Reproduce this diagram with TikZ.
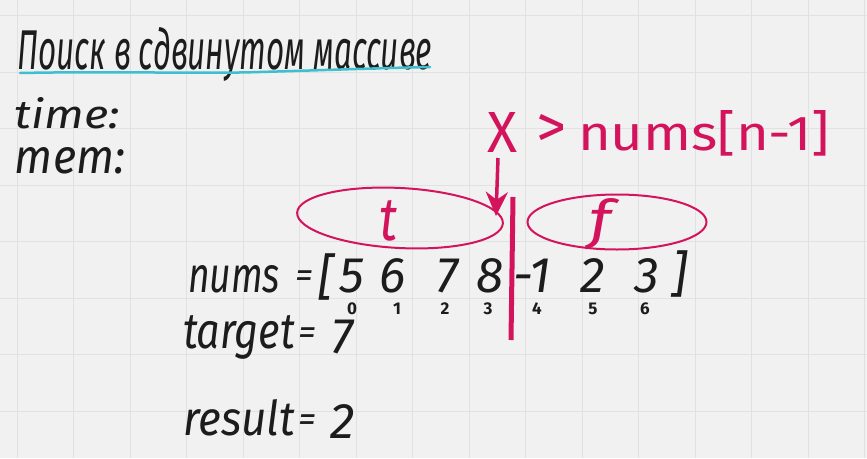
\documentclass[tikz,border=0pt]{standalone}
\usepackage{fontspec}
\usepackage{graphicx}
\usetikzlibrary{arrows.meta,shapes.geometric}
\newfontfamily\hand{Fira Sans Italic}
\newfontfamily\handup{Fira Sans}
\definecolor{bgc}{HTML}{F1F1F1}
\definecolor{gridc}{HTML}{E1E1E1}
\definecolor{inkc}{HTML}{1C1C1C}
\definecolor{pinkc}{HTML}{D3145C}
\definecolor{cyanc}{HTML}{3CBFCE}
\begin{document}
\begin{tikzpicture}[x=1pt,y=-1pt,
  ink/.style={inner sep=0pt, outer sep=0pt, text=inkc, anchor=base west, font=\hand\fontsize{40}{48}\selectfont},
  pk/.style={inner sep=0pt, outer sep=0pt, text=pinkc, anchor=base west, font=\handup\fontsize{40}{48}\selectfont},
  pkc/.style={inner sep=0pt, outer sep=0pt, text=pinkc, anchor=base, font=\hand\fontsize{40}{48}\selectfont},
  digit/.style={inner sep=0pt, outer sep=0pt, text=inkc, anchor=base, font=\hand\fontsize{50}{58}\selectfont},
  idx/.style={inner sep=0pt, outer sep=0pt, text=inkc, anchor=base, font=\handup\bfseries\fontsize{17}{19}\selectfont},
  eqs/.style={inner sep=0pt, outer sep=0pt, text=inkc, font=\hand\fontsize{36}{40}\selectfont},
  oval/.style={draw=pinkc, line width=2pt, ellipse, inner sep=0pt},
  ]
\useasboundingbox (0,0) rectangle (867,458);
\fill[bgc] (0,0) rectangle (867,458);
\foreach \i in {0,...,15} \draw[gridc, line width=1pt] ({17+56.5*\i},0) -- ({17+56.5*\i},458);
\foreach \j in {0,...,7} \draw[gridc, line width=1pt] (0,{15.5+56.5*\j}) -- (867,{15.5+56.5*\j});

% title
\node[ink] (title) at (17,69) {\resizebox{415pt}{42pt}{Поиск в сдвинутом массиве}};
\draw[cyanc, line width=2.5pt, line cap=round] (20,73) .. controls (120,71) and (200,74) .. (260,72) .. controls (330,70) and (380,68) .. (430,67);

\node[ink] (time) at (15,128) {\resizebox{105pt}{31pt}{time:}};
\node[ink] (mem) at (15,173) {\resizebox{110pt}{26pt}{mem:}};

% pink condition
\node[pk] (cx) at (487,152) {\resizebox{30pt}{40pt}{X}};
\node[inner sep=0pt, outer sep=0pt, text=pinkc, font=\handup\fontsize{60}{64}\selectfont] (cgt) at (551,131) {>};
\node[pk] (cnums) at (578,150) {\resizebox{252pt}{40pt}{nums[n-1]}};

% ovals
\node[oval, minimum width=206pt, minimum height=60pt, rotate=-3] (ovt) at (400,218) {};
\node[oval, minimum width=179pt, minimum height=55pt] (ovf) at (617,222) {};
\node[pkc] (lt) at (388,240) {\resizebox{18pt}{40pt}{t}};
\node[pkc] (lf) at (600,238) {\resizebox{22pt}{40pt}{f}};

% arrow and bar
\coordinate (atop) at (498,158);
\coordinate (atip) at (496,216);
\draw[pinkc, line width=3.5pt, -{Stealth[length=24pt,width=22pt]}] (atop) -- (atip);
\coordinate (btop) at (513,197);
\coordinate (bbot) at (511,340);
\draw[pinkc, line width=5pt] (btop) -- (bbot);

% nums row
\node[ink] (nums) at (188,292) {\resizebox{92pt}{27pt}{nums}};
\node[eqs] (eq1) at (304,279) {=};
\node[digit] (lb) at (326,294) {[};
\node[digit] (d0) at (352,292) {5};
\node[digit] (d1) at (393,292) {6};
\node[digit] (d2) at (447,292) {7};
\node[digit] (d3) at (490,292) {8};
\node[digit] (d4) at (532,292) {-1};
\node[digit] (d5) at (593,292) {2};
\node[digit] (d6) at (647,292) {3};
\node[digit] (rb) at (679,291) {]};

\node[idx] (i0) at (352,314) {0};
\node[idx] (i1) at (397,314) {1};
\node[idx] (i2) at (445,314) {2};
\node[idx] (i3) at (488,314) {3};
\node[idx] (i4) at (537,314) {4};
\node[idx] (i5) at (593,314) {5};
\node[idx] (i6) at (645,314) {6};

% target / result
\node[ink] (target) at (183,348) {\resizebox{112pt}{33pt}{target}};
\node[eqs] (eq2) at (307,336) {=};
\node[digit] (tv) at (342,353) {7};
\node[ink] (result) at (183,435) {\resizebox{112pt}{36pt}{result}};
\node[eqs] (eq3) at (307,423) {=};
\node[digit] (rv) at (343,438) {2};
\end{tikzpicture}
\end{document}
